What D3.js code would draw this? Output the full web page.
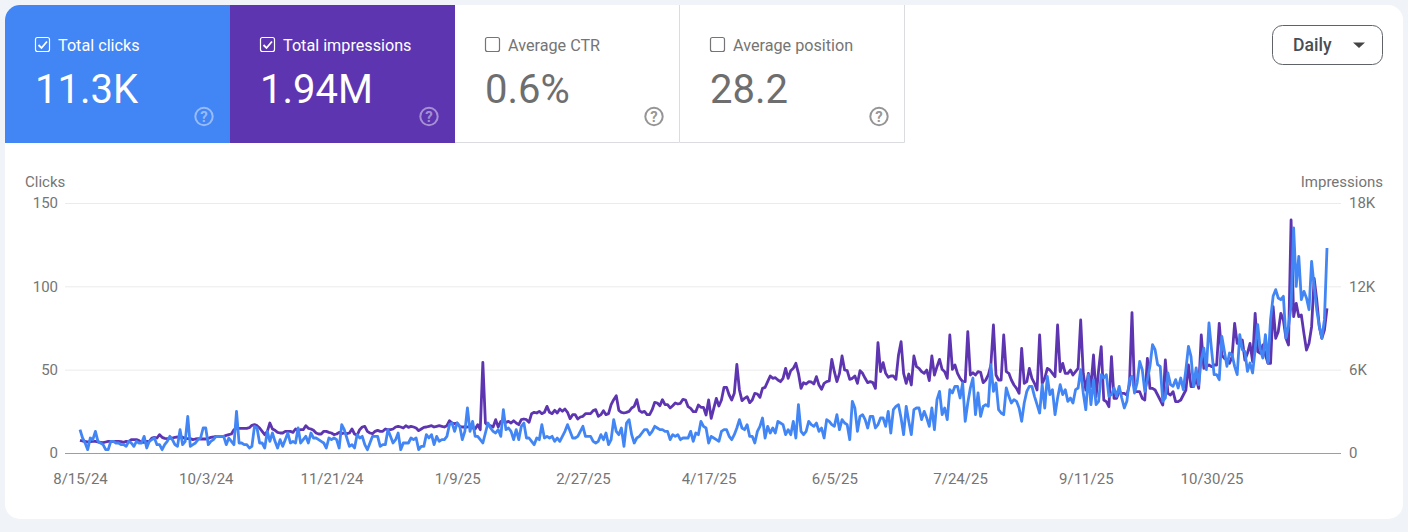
<!DOCTYPE html>
<html>
<head>
<meta charset="utf-8">
<title>Search performance</title>
<script src="https://cdn.jsdelivr.net/npm/d3@7"></script>
<style>
  html, body { margin: 0; padding: 0; background: #f0f4f9; overflow: hidden; }
  text { font-family: Roboto, sans-serif; }
  .tick line, .domain { display: none; }
  .tick text { fill: #757575; font-size: 15px; }
</style>
</head>
<body>
<script>
// daily values, 8/15/24 to 12/14/25
var startDate = new Date(Date.UTC(2024, 7, 15));

var clicks = [
  14,9,6,2,9,8,13,7,6,5, 2,2,7,7,6,6,5,5,4,7, 6,4,7,6,6,10,3,7,8,9,
  5,5,2,5,7,10,8,5,4,14, 5,7,22,4,5,6,8,9,15,
  15,5,7,8,10,10,10,10,5,9, 7,5,25,6,6,5,5,3,4,16, 15,6,6,3,13,7,12,7,3,8,
  4,8,12,6,7,6,15,6,8,10, 6,12,9,9,8,7,6,3,9,8, 9,8,3,17,14,9,4,5,3,11,
  9,10,5,2,
  6,10,10,10,4,5,5,14,10,6, 8,12,2,6,6,6,9,8,9,2, 4,4,11,9,11,5,10,7,8,8,
  10,17,18,13,18,16,8,13,27,13, 19,10,10,8,6,12,18,15,13,12, 14,10,26,14,15,13,8,14,8,16,
  18,9,9,7,5,9,8,17,9,10, 9,10,7,9,7,10,13,17,13,9, 9,10,13,16,10,10,10,7,6,7,
  11,8,12,5,8,20,13,11,15,4, 18,20,11,6,9,10,12,14,14,11, 13,16,15,14,14,13,13,8,11,10,
  11,
  8,9,9,9,13,7,12,11,19,16, 15,6,10,9,8,7,13,14,14,10, 8,11,15,20,15,14,17,10,10,6,
  13,16,21,9,16,12,15,12,19,18, 17,11,14,11,19,9,29,13,11,13, 19,17,16,18,13,15,9,20,19,17,
  16,23,14,20,18,17,8,31,27,13, 22,23,20,15,22,22,15,17,21,21, 16,25,12,26,28,29,21,11,28,19,
  11,26,27,27,20,25,21,16,27,14, 32,37,23,27,20,38,36,40,40,33, 42,19,30,39,45,23,36,22,28,29,
  28,53,37,42,26,
  24,23,39,34,30,32,31,27,19,30, 37,40,40,34,29,24,41,27,46,35, 38,23,33,41,35,38,31,33,30,38,
  39,50,36,26,47,29,44,29,31,47, 45,47,34,35,39,34,40,33,27,31, 44,46,36,42,55,50,37,44,52,65,
  62,53,52,31,33,48,41,40,44,39, 45,38,50,64,58,40,51,41,56,63, 50,78,62,47,47,44,70,61,52,60,
  59,52,47,71,62,61,49,54,48,62, 77,62,57,71,54,80,94,98,93,92, 94,69,76,88,135,100,118,92,97,93,
  86,115,100,86,76,69,80,123
];

var impressions = [
  912,864,840,792,816,840,840,792,768,744, 792,840,840,816,840,840,816,768,840,816,
  960,960,960,888,768,768,840,840,1080,1128, 1080,1320,1128,1056,1032,1056,1080,1128,1152,1200,
  1128,1056,1032,1032,960,1008,1032,1008,1008,
  1008,1056,1128,1152,1200,1200,1200,1200,1272,1320,1368,
  1680,1776,1776,1776,1776,1776,1824,1992,2040,1968, 1800,1560,1320,1560,2160,1728,1632,1488,1440,1440,
  1560,1560,1560,1488,1728,1632,1680,1680,1968,1776, 1728,1632,1440,1368,1368,1560,1560,1488,1440,1320,
  1368,1488,1392,1440,1390,1440,1728,1368,1272,1680, 1872,1920,1560,
  1440,1392,1560,1632,1560,1560,1728,1680,1680,1728, 1872,1920,1872,1800,1968,1848,1920,1872,1800,1608,
  1728,1848,1872,1920,1968,1872,1920,1968,1920,1872, 1968,2328,2160,2112,2160,1920,1872,1872,1872,1920,
  1800,1728,2040,1680,6528,2160,1968,1968,1872,2400, 1872,2280,2280,2208,2280,2160,2328,2160,2040,2400,
  2448,2400,2208,2832,2928,2880,3000,2832,2928,3360, 2928,2832,3072,2880,3168,3000,3168,2928,2472,2760,
  2760,2448,2592,2640,2832,2832,2832,3048,3120,2640, 2760,3048,2760,2832,3480,3840,4128,3072,2928,2880,
  2928,3000,3240,3360,3840,3048,2928,3000,2760,2760, 3120,3648,3600,3408,3840,3480,3480,3240,3408,3600,
  3528,
  3576,3864,3816,3336,3216,2976,2976,3456,3288,3288, 2736,3816,2496,3216,3936,3384,3816,4728,4728,4176,
  3816,4296,6384,4536,3768,3936,4056,3624,3816,4296, 4248,4008,4656,4728,5136,5544,5376,5424,5256,5136,
  5376,6096,5376,5928,6096,6456,5736,4656,5064,4968, 5136,5112,4968,5496,4896,4584,5016,5136,5184,6744,
  5856,5136,5736,6984,5976,5928,5304,5376,5544,5016, 5928,5736,5376,5064,5136,5064,4656,7944,5856,6504,
  5736,5448,5544,5544,5304,7056,8016,5736,5016,5688, 4896,6984,6216,6096,5856,5736,5976,5208,6984,5616,
  6216,6744,6024,5856,5376,8496,6024,6336,5736,5376, 5136,5136,8736,5616,5784,5616,5856,5808,5064,5256,
  5616,6336,9216,5616,5256,
  5256,8496,5856,5736,5256,4896,4656,4296,7536,5016, 5136,6096,5376,5016,4536,8496,5016,5376,6096,5976,
  5736,5496,9216,5856,6456,5736,5736,5976,5616,5856, 6096,9576,5736,4536,5736,4776,7056,4056,5976,7656,
  3816,3696,3336,6936,3936,3936,4416,4296,4296,4176, 4896,10104,4416,4416,4416,3936,3816,6816,4656,4656,
  4536,4176,3816,3456,6696,4296,4176,4416,3696,3696, 3816,4176,4536,6336,4776,4776,5376,4656,8496,6096,
  6216,6336,6216,6336,6336,9336,7056,6816,6696,6456, 6936,9336,7896,7896,8136,6696,7176,7896,6576,10056,
  7296,7176,7776,7056,6456,6456,10536,8256,8736,10056, 9576,8256,7776,16776,9816,10776,9816,9936,8616,7416,
  7896,9096,12576,11016,9096,8256,8856,10416
];

var clickTicks = [0, 50, 100, 150];
var impressionTicks = [0, 6000, 12000, 18000];
var dateTicks = ["2024-08-15","2024-10-03","2024-11-21","2025-01-09","2025-02-27",
  "2025-04-17","2025-06-05","2025-07-24","2025-09-11","2025-10-30"];

var tabTitles = ["Total clicks", "Total impressions", "Average CTR", "Average position"];
var tabValues = ["11.3K", "1.94M", "0.6%", "28.2"];
var tabChecked = [true, true, false, false];
var tabColors = ["#4285f4", "#5e35b1", "#ffffff", "#ffffff"];

var svg = d3.select("body").append("svg")
    .attr("width", 1408)
    .attr("height", 532)
    .style("display", "block");

svg.append("clipPath").attr("id", "card")
  .append("rect")
    .attr("x", 5).attr("y", 5)
    .attr("width", 1398).attr("height", 514)
    .attr("rx", 15);

var card = svg.append("g").attr("clip-path", "url(#card)");
card.append("rect")
    .attr("x", 5).attr("y", 5)
    .attr("width", 1398).attr("height", 514)
    .attr("fill", "#fff");

// metric tabs
var tabW = 225, tabH = 138;
var tabs = card.selectAll(".metric")
    .data(tabTitles)
    .enter()
    .append("g")
        .attr("class", "metric")
        .attr("transform", function(d, i) { return "translate(" + (5 + i * tabW) + ",5)"; });

tabs.append("rect")
    .attr("width", tabW)
    .attr("height", tabH)
    .attr("fill", function(d, i) { return tabColors[i]; });

// borders of the two white tabs
tabs.filter(function(d, i) { return !tabChecked[i]; })
  .append("path")
    .attr("d", "M0," + (tabH - 0.5) + "H" + (tabW - 0.5) + "V0")
    .attr("fill", "none")
    .attr("stroke", "#dadce0");

tabs.append("rect")
    .attr("x", 30.5).attr("y", 32.5)
    .attr("width", 14).attr("height", 14)
    .attr("rx", 2)
    .attr("fill", "none")
    .attr("stroke", function(d, i) { return tabChecked[i] ? "#fff" : "#757575"; })
    .attr("stroke-width", 1.2);

tabs.filter(function(d, i) { return tabChecked[i]; })
  .append("path")
    .attr("d", "M33.5,40l3,3l5.5,-6.5")
    .attr("fill", "none")
    .attr("stroke", "#fff")
    .attr("stroke-width", 1.8);

tabs.append("text")
    .attr("x", 53)
    .attr("y", 45.5)
    .attr("font-size", 16.2)
    .attr("fill", function(d, i) { return tabChecked[i] ? "#fff" : "#757575"; })
    .text(function(d) { return d; });

tabs.append("text")
    .attr("x", 30)
    .attr("y", 98)
    .attr("font-size", 40)
    .attr("fill", function(d, i) { return tabChecked[i] ? "#fff" : "#6e6e6e"; })
    .text(function(d, i) { return tabValues[i]; });

tabs.append("circle")
    .attr("cx", 199).attr("cy", 111.5).attr("r", 8.7)
    .attr("fill", "none")
    .attr("stroke", function(d, i) { return tabChecked[i] ? "#fff" : "#8a8a8a"; })
    .attr("stroke-opacity", function(d, i) { return tabChecked[i] ? 0.45 : 0.9; })
    .attr("stroke-width", 2);

tabs.append("text")
    .attr("x", 199).attr("y", 117)
    .attr("text-anchor", "middle")
    .attr("font-size", 15)
    .attr("font-weight", 700)
    .attr("fill", function(d, i) { return tabChecked[i] ? "#fff" : "#8a8a8a"; })
    .attr("fill-opacity", function(d, i) { return tabChecked[i] ? 0.45 : 0.9; })
    .text("?");

// Daily dropdown
card.append("rect")
    .attr("x", 1272.5).attr("y", 25.5)
    .attr("width", 110).attr("height", 39)
    .attr("rx", 10)
    .attr("fill", "#fff")
    .attr("stroke", "#5f6368");
card.append("text")
    .attr("x", 1293).attr("y", 51)
    .attr("font-size", 17.6)
    .attr("font-weight", 500)
    .attr("fill", "#4a4d52")
    .text("Daily");
card.append("path")
    .attr("d", "M1353,42.5h12l-6,5.5z")
    .attr("fill", "#444");

// chart
var x = d3.scaleUtc()
    .domain([startDate, d3.utcDay.offset(startDate, clicks.length - 1)])
    .range([80, 1327]);
var yClicks = d3.scaleLinear().domain([0, 150]).range([453, 203]);
var yImpressions = d3.scaleLinear().domain([0, 18000]).range([453, 203]);

card.selectAll(".grid")
    .data(clickTicks.slice(1))
    .enter()
    .append("line")
        .attr("class", "grid")
        .attr("x1", 65).attr("x2", 1341)
        .attr("y1", function(d) { return yClicks(d) + 0.5; })
        .attr("y2", function(d) { return yClicks(d) + 0.5; })
        .attr("stroke", "#ebebeb");

card.append("line")
    .attr("x1", 65).attr("x2", 1341)
    .attr("y1", 453.5).attr("y2", 453.5)
    .attr("stroke", "#9e9e9e");

card.append("g")
    .attr("transform", "translate(58,0)")
    .call(d3.axisLeft(yClicks).tickValues(clickTicks).tickSize(0).tickPadding(0));

card.append("g")
    .attr("transform", "translate(1349,0)")
    .call(d3.axisRight(yImpressions).tickValues(impressionTicks).tickSize(0).tickPadding(0)
        .tickFormat(function(d) { return d === 0 ? "0" : (d / 1000) + "K"; }));

var parseDay = d3.utcParse("%Y-%m-%d");
card.append("g")
    .attr("transform", "translate(0,473.7)")
    .call(d3.axisBottom(x).tickValues(dateTicks.map(parseDay)).tickSize(0).tickPadding(0)
        .tickFormat(d3.utcFormat("%-m/%-d/%y")));

card.append("text")
    .attr("x", 25).attr("y", 187)
    .attr("font-size", 15)
    .attr("fill", "#757575")
    .text("Clicks");
card.append("text")
    .attr("x", 1383).attr("y", 187)
    .attr("text-anchor", "end")
    .attr("font-size", 15)
    .attr("fill", "#757575")
    .text("Impressions");

function drawLine(values, yScale, color) {
    var line = d3.line()
        .x(function(d, i) { return x(d3.utcDay.offset(startDate, i)); })
        .y(function(d) { return yScale(d); });
    card.append("path")
        .datum(values)
        .attr("d", line)
        .attr("fill", "none")
        .attr("stroke", color)
        .attr("stroke-width", 2.8)
        .attr("stroke-linejoin", "round");
}

drawLine(impressions, yImpressions, "#5e35b1");
drawLine(clicks, yClicks, "#4285f4");
</script>
</body>
</html>
